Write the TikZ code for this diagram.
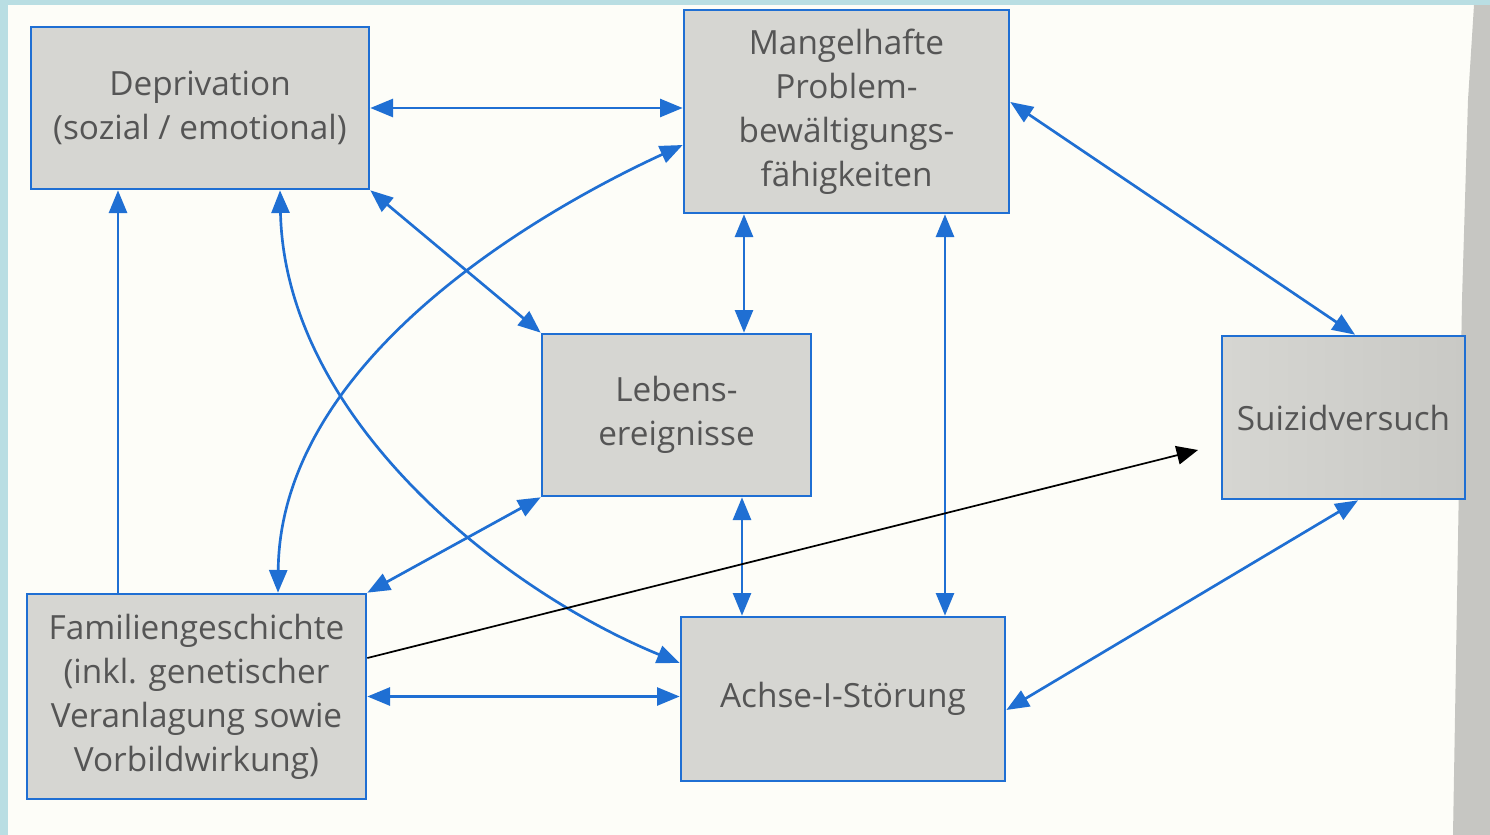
\documentclass[tikz,border=0pt]{standalone}
\usepackage{fontspec}
\setmainfont{Open Sans}
\usetikzlibrary{arrows.meta,calc}
\definecolor{frame}{HTML}{B9DEE3}
\definecolor{paper}{HTML}{FDFDF8}
\definecolor{strip}{HTML}{C6C6C2}
\definecolor{boxfill}{HTML}{D6D6D2}
\definecolor{boxdark}{HTML}{C9C9C5}
\definecolor{blueline}{HTML}{1F6FD3}
\definecolor{txt}{HTML}{555555}
\begin{document}
\begin{tikzpicture}[x=0.75pt,y=-0.75pt,
  box/.style={draw=blueline,line width=2pt,fill=boxfill,inner sep=0pt,align=center,
    text=txt,font=\fontsize{25}{33}\selectfont},
  biarr/.style={draw=blueline,line width=2pt,
    {Triangle[length=17pt,width=13.5pt]}-{Triangle[length=17pt,width=13.5pt]}},
  onearr/.style={draw=blueline,line width=2pt,-{Triangle[length=17pt,width=13.5pt]}},
  blackarr/.style={draw=black,line width=1.3pt,-{Triangle[length=16pt,width=14pt]}}
]
\useasboundingbox (0,0) rectangle (1490,835);
\fill[frame] (0,0) rectangle (1490,835);
\fill[paper] (8,5) rectangle (1490,835);
\fill[strip] (1474,5) -- (1490,5) -- (1490,835) -- (1453,835) -- (1457,600) -- (1462,300) -- (1468,100) -- cycle;

\node[box,minimum width=253.5pt,minimum height=121.5pt] (dep) at (200,108)
  {Deprivation\\(sozial / emotional)};
\node[box,minimum width=243.75pt,minimum height=152.25pt] (man) at (846.5,111.5)
  {Mangelhafte\\Problem-\\bewältigungs-\\fähigkeiten};
\node[box,minimum width=201.75pt,minimum height=121.5pt] (leb) at (676.5,415)
  {Lebens-\\ereignisse};
\node[box,left color=boxfill,right color=boxdark,minimum width=182.25pt,minimum height=122.25pt] (sui) at (1343.5,417.5)
  {Suizidversuch};
\node[box,minimum width=254.25pt,minimum height=153.75pt] (fam) at (196.5,696.5)
  {Familiengeschichte\\(inkl. genetischer\\Veranlagung sowie\\Vorbildwirkung)};
\node[box,minimum width=243pt,minimum height=123pt] (ach) at (843,699)
  {Achse-I-Störung};

% helper coordinates on node borders
\coordinate (c3) at ($(leb.north)+(67.5,0)$);
\coordinate (c4) at ($(ach.north)+(102,0)$);
\coordinate (c6) at ($(leb.south)+(65.5,0)$);
\coordinate (c8) at ($(fam.north)+(-78.5,0)$);
\coordinate (c5a) at ($(man.east)+(0,-9.5)$);
\coordinate (c5b) at ($(sui.north)+(11.5,0)$);
\coordinate (c9a) at ($(dep.south)+(80,0)$);
\coordinate (c9b) at ($(ach.west)+(0,-36)$);
\coordinate (c10a) at ($(man.west)+(0,33.5)$);
\coordinate (c10b) at ($(fam.north)+(81.5,0)$);
\coordinate (c12a) at ($(sui.south)+(14.5,0)$);
\coordinate (c12b) at ($(ach.east)+(0,11)$);
\coordinate (c13a) at ($(fam.east)+(0,-38.5)$);
\coordinate (tipend) at (1198,450);

\draw[biarr] (dep.east) -- (dep.east -| man.west);
\draw[biarr] (dep.south east) -- (leb.north west);
\draw[biarr] (c3 |- man.south) -- (c3);
\draw[biarr] (c4 |- man.south) -- (c4);
\draw[biarr] (c5a) -- (c5b);
\draw[biarr] (c6) -- (c6 |- ach.north);
\draw[biarr] (leb.south west) -- (fam.north east);
\draw[onearr] (c8) -- (c8 |- dep.south);
\draw[biarr] (c9a) .. controls ($(c9a)+(5,228)$) and ($(c9b)+(-178,-73)$) .. (c9b);
\draw[biarr] (c10a) .. controls ($(c10a)+(-141,65)$) and ($(c10b)+(2,-234)$) .. (c10b);
\draw[biarr] (fam.east) -- (fam.east -| ach.west);
\draw[biarr] (c12a) -- (c12b);
\draw[blackarr] (c13a) -- (tipend);
\end{tikzpicture}
\end{document}
